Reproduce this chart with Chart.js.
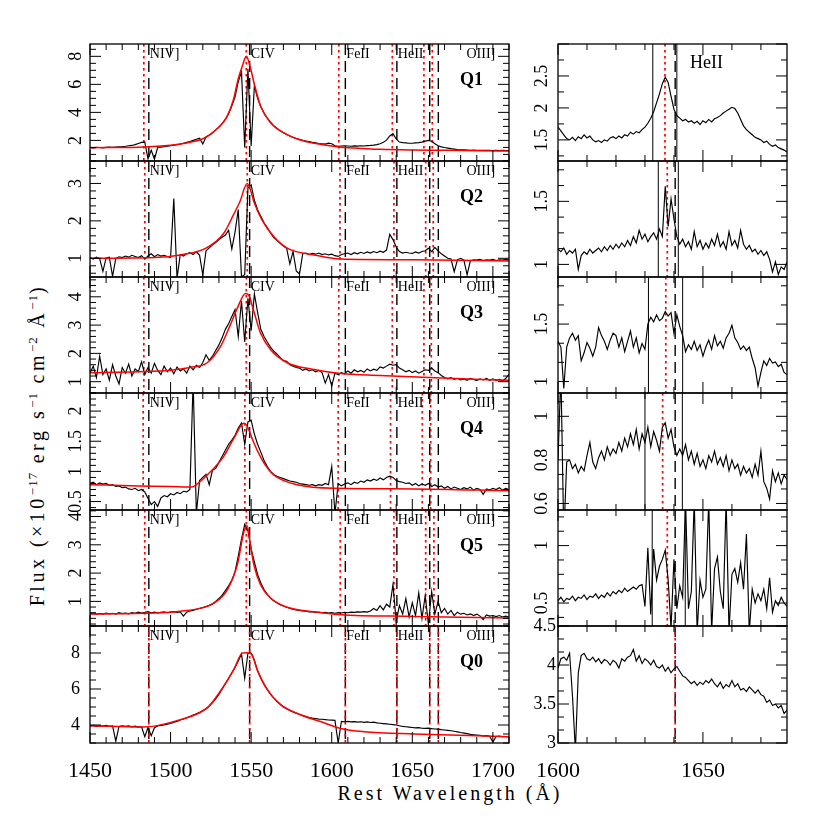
<!DOCTYPE html>
<html>
<head>
<meta charset="utf-8">
<script src="https://cdn.jsdelivr.net/npm/chart.js@4.4.1/dist/chart.umd.min.js"></script>
<style>
html,body{margin:0;padding:0;background:#fff;}
#wrap{position:relative;width:830px;height:830px;overflow:hidden;background:#fff;}
#wrap canvas{position:absolute;}
.ttl{position:absolute;font-family:"Liberation Serif","Times New Roman",serif;font-size:20px;line-height:20px;color:#000;white-space:nowrap;}
#xt{left:450px;top:783px;transform:translateX(-50%);letter-spacing:3px;}
#yt{left:37px;top:445px;transform:translate(-50%,-50%) rotate(-90deg);letter-spacing:3.5px;}
.ttl sup{font-size:13px;line-height:0;vertical-align:7px;letter-spacing:1px;}
</style>
</head>
<body>
<div id="wrap">
<div class="ttl" id="xt">Rest Wavelength (Å)</div>
<div class="ttl" id="yt">Flux (×10<sup>−17</sup> erg s<sup>−1</sup> cm<sup>−2</sup> Å<sup>−1</sup>)</div>
</div>
<script>
// ---------------- DATA ----------------
const panelNames = ['Q1','Q2','Q3','Q4','Q5','Q0'];
const lineNames = ['NIV]','CIV','FeII','HeII','OIII]'];
const lineLabelWave = [1486.5,1549.06,1608.45,1640.42,1683];
const labWave = [1486.5,1549.06,1608.45,1640.42,1660.81,1666.15];
const heIIWave = 1640.42;

const leftXRange = [1450,1710];
const rightXRange = [1600,1679];
const leftXTicks = [1450,1500,1550,1600,1650,1700];
const rightXTicks = [1600,1650];

const leftYRanges = [[0.53,8.88],[0.5,3.6],[0.6,4.7],[0.36,2.3],[0.13,4.23],[3.0,9.5]];
const leftYTicks = [[2,4,6,8],[1,2,3],[1,2,3,4],[0.5,1,1.5,2],[1,2,3,4],[4,6,8]];
const rightYRanges = [[1.17,3.0],[0.9,1.82],[0.9,1.91],[0.57,1.107],[0.3,1.31],[3.0,4.5]];
const rightYTicks = [[1.5,2,2.5],[1,1.5],[1,1.5],[0.6,0.8,1],[0.5,1],[3,3.5,4,4.5]];

const leftWave = [1450,1452,1454,1456,1458,1460,1462,1464,1466,1468,
1470,1472,1474,1476,1478,1480,1482,1484,1486,1488,
1490,1492,1494,1496,1498,1500,1502,1504,1506,1508,
1510,1512,1514,1516,1518,1520,1522,1524,1526,1528,
1530,1532,1534,1536,1538,1540,1542,1544,1546,1548,
1550,1552,1554,1556,1558,1560,1562,1564,1566,1568,
1570,1572,1574,1576,1578,1580,1582,1584,1586,1588,
1590,1592,1594,1596,1598,1600,1602,1604,1606,1608,
1610,1612,1614,1616,1618,1620,1622,1624,1626,1628,
1630,1632,1634,1636,1638,1640,1642,1644,1646,1648,
1650,1652,1654,1656,1658,1660,1662,1664,1666,1668,
1670,1672,1674,1676,1678,1680,1682,1684,1686,1688,
1690,1692,1694,1696,1698,1700,1702,1704,1706,1708,
1710];

const q1Flux = [1.48,1.47,1.50,1.49,1.47,1.50,1.52,1.50,1.53,1.55,
1.56,1.58,1.62,1.64,1.70,1.78,1.86,1.88,0.68,1.30,
0.66,1.50,1.52,1.55,1.58,1.62,1.66,1.70,1.74,1.80,
1.86,1.92,2.00,2.08,2.15,1.75,2.25,2.38,2.55,2.75,
2.95,3.20,3.50,3.90,4.45,5.10,6.20,6.90,1.50,7.10,
1.60,5.90,5.00,4.40,3.95,3.60,3.30,3.05,2.85,2.68,
2.55,2.42,2.32,2.22,2.14,2.07,2.01,1.96,1.91,1.86,
1.82,1.78,1.76,1.74,1.80,1.76,1.62,1.58,1.60,1.62,
1.60,1.58,1.61,1.59,1.62,1.60,1.63,1.64,1.66,1.70,
1.76,1.86,2.02,2.32,2.48,2.10,1.88,1.84,1.82,1.80,
1.80,1.82,1.84,1.88,1.95,2.00,1.94,1.76,1.62,1.54,
1.49,1.45,1.41,1.38,1.35,1.33,1.32,1.31,1.30,1.31,
1.30,1.29,1.30,1.29,1.30,1.28,1.29,1.28,1.29,1.28,
1.28];

const q2Flux = [1.02,0.98,1.03,0.99,0.65,1.01,1.03,0.52,1.00,1.04,
1.02,1.06,1.03,1.08,1.05,1.02,1.07,0.98,1.06,1.12,
1.04,1.10,1.06,1.08,1.05,1.02,2.60,0.47,1.10,1.06,
1.12,1.15,1.10,1.18,1.08,0.56,1.20,1.28,1.36,1.42,
1.50,1.56,1.62,1.75,1.25,1.70,2.30,0.51,0.56,2.88,
2.96,2.55,2.30,2.12,1.95,1.82,1.68,1.55,1.48,1.40,
1.33,1.27,0.85,1.18,0.66,0.58,1.12,1.14,1.10,1.13,
1.11,1.14,1.10,1.12,1.09,1.11,1.07,1.05,1.10,1.12,
1.14,1.10,1.15,1.12,1.16,1.13,1.17,1.14,1.18,1.15,
1.19,1.16,1.22,1.64,1.50,1.30,1.18,1.14,1.16,1.14,
1.13,1.17,1.14,1.18,1.20,1.27,1.18,1.29,1.20,1.12,
1.06,1.00,0.98,0.64,0.96,1.00,0.95,0.56,0.93,0.96,
0.95,0.97,0.94,0.96,0.95,0.97,0.94,0.96,0.95,0.97,
0.95];

const q3Flux = [1.30,1.55,1.15,1.90,1.25,1.45,1.05,1.60,1.20,0.92,
1.50,1.30,1.62,1.20,1.45,1.35,1.70,1.25,1.50,1.30,
1.65,1.40,1.25,1.55,1.35,1.48,1.28,1.52,1.38,1.45,
1.30,1.55,1.42,1.58,1.50,1.68,1.95,1.75,1.90,2.10,
2.30,2.55,2.85,3.05,3.30,3.55,2.60,3.85,2.40,3.95,
2.80,4.10,3.45,2.85,2.60,2.40,2.22,2.08,1.98,1.85,
1.75,1.72,1.60,1.55,1.50,1.48,1.40,1.45,1.38,1.42,
1.35,1.40,1.32,0.95,1.25,0.85,1.30,1.25,1.32,1.28,
1.38,1.30,1.42,1.35,1.40,1.33,1.45,1.38,1.44,1.40,
1.52,1.48,1.55,1.62,1.58,1.60,1.48,1.42,1.35,1.40,
1.32,1.38,1.30,1.36,1.42,1.40,1.48,1.38,1.32,1.22,
1.15,1.10,1.14,1.08,1.12,1.06,1.10,1.05,1.12,1.08,
1.04,1.10,1.06,1.12,1.05,1.10,1.04,1.08,1.02,1.12,
1.26];

const q4Flux = [0.80,0.82,0.78,0.81,0.79,0.80,0.77,0.78,0.75,0.76,
0.73,0.74,0.71,0.70,0.72,0.68,0.70,0.66,0.55,0.45,
0.50,0.42,0.56,0.60,0.58,0.63,0.61,0.65,0.63,0.67,
0.66,0.70,2.50,0.30,0.85,0.90,0.95,0.78,1.02,1.05,
1.15,1.25,1.35,1.45,1.52,1.60,1.72,1.80,1.45,1.82,
1.85,1.62,1.45,1.32,1.18,1.08,1.00,0.95,0.92,0.90,
0.88,0.86,0.84,0.83,0.82,0.80,0.79,0.78,0.77,0.78,
0.76,0.78,0.77,0.80,0.78,1.08,0.30,0.80,0.76,0.79,
0.81,0.78,0.82,0.80,0.84,0.82,0.86,0.84,0.87,0.85,
0.89,0.86,0.90,0.92,0.90,0.85,0.83,0.82,0.80,0.81,
0.77,0.80,0.76,0.79,0.77,0.80,0.75,0.78,0.74,0.76,
0.72,0.75,0.71,0.74,0.72,0.70,0.73,0.71,0.74,0.69,
0.72,0.70,0.62,0.71,0.69,0.72,0.70,0.73,0.69,0.72,
0.70];

const q5Flux = [0.55,0.58,0.54,0.57,0.55,0.59,0.56,0.58,0.55,0.60,
0.57,0.59,0.56,0.60,0.58,0.62,0.59,0.61,0.64,0.60,
0.62,0.59,0.61,0.63,0.60,0.62,0.64,0.61,0.63,0.48,
0.62,0.66,0.68,0.72,0.75,0.78,0.82,0.86,0.92,1.00,
1.10,1.22,1.38,1.55,1.75,2.05,2.60,3.20,3.72,3.50,
2.85,2.40,1.95,1.65,1.42,1.25,1.12,1.02,0.95,0.88,
0.84,0.79,0.76,0.72,0.70,0.68,0.66,0.65,0.63,0.64,
0.61,0.62,0.60,0.61,0.59,0.60,0.58,0.60,0.59,0.61,
0.60,0.62,0.61,0.63,0.62,0.64,0.62,0.66,0.75,0.68,
0.85,0.70,0.90,0.80,1.60,0.30,0.85,0.55,1.10,0.45,
0.95,0.50,1.30,0.40,1.20,0.20,1.35,0.55,1.00,0.60,
0.75,0.55,0.68,0.50,0.62,0.55,0.58,0.52,0.56,0.50,
0.55,0.48,0.36,0.52,0.48,0.50,0.46,0.50,0.45,0.48,
0.44];

const q0Flux = [3.95,3.98,3.92,3.96,3.94,3.98,3.93,3.95,3.10,3.92,
3.96,3.93,3.95,3.90,3.94,3.88,3.90,3.35,3.86,3.40,
3.85,3.95,3.98,4.00,4.05,4.08,4.15,4.20,4.28,4.33,
4.40,4.47,4.55,4.63,4.70,4.80,4.90,5.05,5.25,5.45,
5.70,6.00,6.30,6.60,6.90,7.20,7.55,7.95,6.60,8.00,
8.00,7.60,7.00,6.60,6.25,5.98,5.72,5.50,5.30,5.15,
5.00,4.90,4.80,4.72,4.65,4.58,4.52,4.47,4.42,4.38,
4.36,4.33,4.32,4.30,4.28,4.27,4.26,3.00,4.20,4.18,
4.20,4.17,4.19,4.16,4.18,4.15,4.17,4.14,4.16,4.12,
4.10,4.08,4.06,4.04,4.02,4.00,3.96,3.92,3.90,3.88,
3.86,3.84,3.85,3.82,3.81,3.83,3.80,3.78,3.77,3.74,
3.72,3.70,3.68,3.65,3.62,3.58,3.55,3.52,3.48,3.46,
3.44,3.42,3.40,3.41,3.38,3.05,3.36,3.38,3.35,3.36,
3.34];

// model fits (red)
const q1FitWave = [1450,1480,1500,1510,1520,1525,1530,1535,1539,1542,1544.5,1547,1549.5,1552,1556,1562,1572,1580,1589,1600,1606,1620,1630,1650,1672,1690,1710];
const q1FitFlux = [1.48,1.52,1.65,1.82,2.12,2.45,2.95,3.7,4.9,6.4,7.3,8.0,7.2,6.0,4.4,3.26,2.43,2.05,1.8,1.6,1.52,1.42,1.36,1.31,1.29,1.26,1.24];
const q2FitWave = [1450,1490,1506,1522,1533,1539,1543,1547.5,1549.6,1551.7,1556.8,1564,1572.4,1589,1605.5,1651,1710];
const q2FitFlux = [1.0,1.02,1.09,1.27,1.67,2.16,2.51,3.0,2.82,2.51,2.02,1.58,1.27,1.09,0.98,0.96,0.93];
const q3FitWave = [1450,1480,1500,1512,1522.7,1531,1537,1541.4,1546.5,1548.5,1551.7,1555.8,1562,1572.4,1589,1605.5,1630,1672,1710];
const q3FitFlux = [1.32,1.35,1.40,1.50,1.67,2.25,3.0,3.6,4.12,4.06,3.48,2.72,2.14,1.67,1.43,1.29,1.22,1.12,1.05];
const q4FitWave = [1450,1480,1500,1513,1516,1522.7,1533,1539.3,1545.5,1547.5,1551.7,1557.9,1564,1578.6,1603,1651,1710];
const q4FitFlux = [0.78,0.76,0.75,0.74,0.78,0.94,1.25,1.55,1.80,1.75,1.47,1.14,0.94,0.78,0.72,0.71,0.68];
const q5FitWave = [1450,1500,1506,1520,1527,1535.2,1541.4,1545.5,1547.5,1549.6,1551.7,1555.8,1562,1572.4,1589,1605.5,1651,1710];
const q5FitFlux = [0.55,0.62,0.65,0.78,0.94,1.41,2.29,3.46,3.67,2.99,2.29,1.59,1.12,0.79,0.63,0.53,0.47,0.41];
const q0FitWave = [1450,1483,1506,1522.7,1533,1539.3,1544.4,1546.5,1548.5,1550.6,1553.7,1560,1568.3,1580.6,1593,1605.5,1620,1651,1710];
const q0FitFlux = [3.96,3.89,4.30,4.95,6.16,7.09,7.99,8.02,8.0,7.9,7.09,5.97,5.13,4.57,4.19,3.81,3.63,3.50,3.35];

// observed (shifted) line positions, red dotted
const q1Red = [1483.4,1547.0,1604.4,1637.6,1657.2,1662.4];
const q2Red = [1484.0,1547.6,1605.1,1638.6,1658.3,1663.0];
const q3Red = [1483.4,1547.0,1604.4,1637.6,1657.2,1661.8];
const q4Red = [1483.0,1546.1,1604.0,1636.5,1656.2,1661.4];
const q5Red = [1484.0,1547.0,1605.3,1638.6,1658.3,1663.4];
const q0Red = [1486.5,1549.06,1608.45,1640.42,1660.81,1666.15];

// He II zoom panels
const rightWave = [1600,1601,1602,1603,1604,1605,1606,1607,1608,1609,
1610,1611,1612,1613,1614,1615,1616,1617,1618,1619,
1620,1621,1622,1623,1624,1625,1626,1627,1628,1629,
1630,1631,1632,1633,1634,1635,1636,1637,1638,1639,
1640,1641,1642,1643,1644,1645,1646,1647,1648,1649,
1650,1651,1652,1653,1654,1655,1656,1657,1658,1659,
1660,1661,1662,1663,1664,1665,1666,1667,1668,1669,
1670,1671,1672,1673,1674,1675,1676,1677,1678,1679];

const q1HeII = [1.70,1.64,1.58,1.52,1.50,1.54,1.49,1.55,1.52,1.58,
1.53,1.56,1.50,1.47,1.49,1.46,1.50,1.48,1.53,1.55,
1.52,1.56,1.53,1.58,1.56,1.62,1.59,1.63,1.61,1.66,
1.70,1.76,1.84,1.94,2.08,2.22,2.38,2.48,2.40,2.18,
1.98,1.88,1.84,1.80,1.82,1.78,1.80,1.76,1.79,1.74,
1.80,1.77,1.82,1.78,1.83,1.85,1.88,1.92,1.95,1.98,
2.01,1.99,1.92,1.82,1.72,1.66,1.62,1.58,1.54,1.52,
1.50,1.46,1.48,1.43,1.40,1.42,1.38,1.36,1.34,1.31];
const q2HeII = [1.12,1.10,1.13,1.08,1.11,1.09,1.12,0.96,1.07,1.10,
1.08,1.12,1.09,1.11,1.13,1.10,1.14,1.11,1.15,1.12,
1.16,1.13,1.17,1.14,1.19,1.15,1.22,1.17,1.27,1.20,
1.24,1.18,1.22,1.25,1.20,1.28,1.22,1.62,1.30,1.52,
1.36,1.22,1.16,1.20,1.14,1.18,1.12,1.26,1.14,1.19,
1.12,1.17,1.13,1.20,1.15,1.24,1.14,1.18,1.12,1.26,
1.15,1.19,1.13,1.27,1.16,1.12,1.15,1.10,1.12,1.08,
1.11,1.07,1.10,1.04,0.94,1.02,0.92,0.98,0.96,1.02];
const q3HeII = [1.35,1.30,0.94,1.30,1.38,1.42,1.36,1.40,1.18,1.25,
1.34,1.29,1.22,1.30,1.47,1.40,1.35,1.28,1.36,1.42,
1.40,1.30,1.38,1.26,1.35,1.44,1.30,1.38,1.25,1.33,
1.28,1.50,1.56,1.52,1.58,1.53,1.55,1.61,1.57,1.60,
1.42,1.58,1.48,1.40,1.26,1.32,1.28,1.35,1.27,1.32,
1.22,1.30,1.36,1.28,1.40,1.31,1.35,1.29,1.38,1.42,
1.49,1.38,1.34,1.28,1.31,1.27,1.30,1.20,1.12,0.96,
1.08,1.18,1.14,1.20,1.16,1.17,1.13,1.15,1.08,1.06];
const q4HeII = [0.80,1.20,0.45,0.79,0.80,0.76,0.78,0.74,0.77,0.75,
0.82,0.88,0.79,0.76,0.81,0.84,0.80,0.86,0.82,0.85,
0.83,0.88,0.84,0.90,0.86,0.92,0.87,0.94,0.85,0.92,
0.88,0.95,0.86,0.93,0.89,0.84,0.95,0.97,0.90,0.94,
0.86,0.82,0.85,0.82,0.87,0.80,0.84,0.78,0.83,0.77,
0.80,0.76,0.82,0.79,0.84,0.78,0.81,0.77,0.82,0.75,
0.80,0.76,0.78,0.73,0.77,0.74,0.76,0.72,0.78,0.73,
0.84,0.70,0.67,0.62,0.75,0.70,0.74,0.69,0.73,0.71];
const q5HeII = [0.52,0.55,0.51,0.54,0.53,0.56,0.52,0.55,0.54,0.57,
0.53,0.56,0.55,0.58,0.54,0.57,0.55,0.59,0.56,0.60,
0.58,0.61,0.59,0.63,0.60,0.62,0.64,0.62,0.65,0.66,
0.47,0.98,0.40,0.97,0.70,0.82,0.88,0.96,0.70,0.28,
0.88,0.45,0.65,0.55,1.40,0.45,0.60,1.40,0.25,0.70,
0.55,0.62,1.40,0.25,0.80,0.90,0.60,0.45,1.40,0.25,
0.75,0.80,0.68,0.85,0.62,1.10,0.25,0.62,0.50,0.58,
0.52,0.62,0.45,0.72,0.42,0.52,0.48,0.55,0.50,0.47];
const q0HeII = [3.96,4.08,4.10,4.06,4.15,3.60,2.90,3.90,4.12,4.15,
4.08,4.06,4.10,4.04,4.08,4.02,4.07,4.05,4.00,4.06,
4.03,3.96,4.08,4.05,4.10,4.12,4.20,4.05,4.12,4.02,
4.08,4.05,4.00,4.06,3.98,3.96,4.00,3.92,3.97,3.90,
3.95,3.98,3.92,3.86,3.84,3.80,3.76,3.79,3.74,3.78,
3.75,3.80,3.77,3.82,3.76,3.72,3.78,3.70,3.75,3.72,
3.80,3.72,3.76,3.68,3.70,3.66,3.72,3.68,3.64,3.68,
3.62,3.60,3.52,3.55,3.48,3.50,3.45,3.48,3.38,3.42];

const rightRed = [1636.9,1637.7,1637.2,1636.1,1637.7,1640.42];
const rightWinLo = [1632.7,1634.6,1631.2,1630.0,1632.5,null];
const rightWinHi = [1641.0,1641.5,1643.0,1642.9,1643.9,null];

// ---------------- LAYOUT / STYLE ----------------
const FONT = '"Liberation Serif", "Times New Roman", serif';
const ROW_EDGES = [44,161,277,393,510,626,743];
const AREA = {left:[90,509], right:[558,787]};
const M = {top:30, left:60, right:30, bottom:40};
const leftYMinor = [0.5,0.2,0.2,0.1,0.2,0.5];
const leftYMajor = [2,1,1,0.5,1,2];
const rightYMinor = [0.25,0.125,0.5/3,0.2/3,0.125,0.5/3];
const rightYMajor = [0.5,0.5,0.5,0.2,0.5,0.5];
const Y_FONT_SIZE = 18, X_FONT_SIZE = 22;

const leftFlux = [q1Flux,q2Flux,q3Flux,q4Flux,q5Flux,q0Flux];
const leftFitWave = [q1FitWave,q2FitWave,q3FitWave,q4FitWave,q5FitWave,q0FitWave];
const leftFitFlux = [q1FitFlux,q2FitFlux,q3FitFlux,q4FitFlux,q5FitFlux,q0FitFlux];
const leftRed = [q1Red,q2Red,q3Red,q4Red,q5Red,q0Red];
const rightFlux = [q1HeII,q2HeII,q3HeII,q4HeII,q5HeII,q0HeII];

const mctx = document.createElement('canvas').getContext('2d');
function widest(labels, size){
  mctx.font = 'normal ' + size + 'px ' + FONT;
  return Math.max.apply(null, labels.map(l => mctx.measureText(l).width));
}

function makeDecor(cfg){
  return {
    id:'decor',
    beforeDatasetsDraw(chart){
      const ctx = chart.ctx, a = chart.chartArea, xs = chart.scales.x;
      ctx.save();
      ctx.beginPath(); ctx.rect(a.left, a.top, a.right-a.left, a.bottom-a.top); ctx.clip();
      const vline = (w, color, dash, lw) => {
        const px = xs.getPixelForValue(w);
        ctx.strokeStyle = color; ctx.lineWidth = lw; ctx.setLineDash(dash);
        ctx.beginPath(); ctx.moveTo(px, a.top); ctx.lineTo(px, a.bottom); ctx.stroke();
      };
      cfg.solid.forEach(w => vline(w, '#000', [], 1));
      cfg.dashed.forEach(w => vline(w, '#000', [11,6], 1.4));
      cfg.dotted.forEach(w => vline(w, '#ff0000', [2.5,3.5], 1.7));
      ctx.restore();
    },
    afterDatasetsDraw(chart){
      const ctx = chart.ctx, a = chart.chartArea, xs = chart.scales.x, ys = chart.scales.y;
      ctx.save();
      ctx.setLineDash([]);
      ctx.strokeStyle = '#000';
      ctx.lineWidth = 1.3;
      ctx.strokeRect(a.left, a.top, a.right-a.left, a.bottom-a.top);
      ctx.lineWidth = 1;
      const seg = (x1,y1,x2,y2) => { ctx.beginPath(); ctx.moveTo(x1,y1); ctx.lineTo(x2,y2); ctx.stroke(); };
      const isMult = (v, s) => Math.abs(v/s - Math.round(v/s)) < 1e-6;
      for (let k = Math.ceil(xs.min/cfg.xMinor - 1e-9); k*cfg.xMinor <= xs.max + 1e-9; k++){
        const v = k*cfg.xMinor, len = isMult(v, cfg.xMajor) ? 11 : 6, px = xs.getPixelForValue(v);
        seg(px, a.bottom, px, a.bottom-len); seg(px, a.top, px, a.top+len);
      }
      for (let k = Math.ceil(ys.min/cfg.yMinor - 1e-9); k*cfg.yMinor <= ys.max + 1e-9; k++){
        const v = k*cfg.yMinor, len = isMult(v, cfg.yMajor) ? 11 : 6, py = ys.getPixelForValue(v);
        seg(a.left, py, a.left+len, py); seg(a.right, py, a.right-len, py);
      }
      ctx.fillStyle = '#000';
      ctx.textBaseline = 'alphabetic';
      ctx.textAlign = 'left';
      cfg.texts.forEach(t => {
        ctx.font = t.font;
        const x = (t.wave !== undefined) ? xs.getPixelForValue(t.wave) + t.dx : a.left + t.dx;
        ctx.fillText(t.text, x, a.top + t.dy);
      });
      ctx.restore();
    }
  };
}

const wrap = document.getElementById('wrap');

function buildPanel(row, side){
  const isLeft = side === 'left';
  const area = AREA[side];
  const top = ROW_EDGES[row], bottom = ROW_EDGES[row+1];
  const isBottom = row === 5;
  const cw = M.left + (area[1]-area[0]) + M.right;
  const ch = M.top + (bottom-top) + M.bottom;
  const cv = document.createElement('canvas');
  cv.width = cw; cv.height = ch;
  cv.style.left = (area[0]-M.left) + 'px';
  cv.style.top = (top-M.top) + 'px';
  cv.style.width = cw + 'px'; cv.style.height = ch + 'px';
  wrap.appendChild(cv);

  const yTicks = isLeft ? leftYTicks[row] : rightYTicks[row];
  const yRange = isLeft ? leftYRanges[row] : rightYRanges[row];
  const xTicks = isLeft ? leftXTicks : rightXTicks;
  const xRange = isLeft ? leftXRange : rightXRange;
  const yLabels = yTicks.map(v => String(v));

  let rot, crossAlign, pad;
  if (isBottom){
    rot = 0; crossAlign = 'near'; pad = isLeft ? 10 : 2;
  } else {
    rot = 90; crossAlign = 'center';
    pad = (isLeft ? 13.5 : 16) - widest(yLabels, Y_FONT_SIZE)/2;
  }

  const datasets = [];
  if (isLeft){
    datasets.push({
      data: leftFitWave[row].map((w,i) => ({x:w, y:leftFitFlux[row][i]})),
      borderColor:'#ff0000', borderWidth:1.5, pointRadius:0, cubicInterpolationMode:'monotone', clip:0
    });
    datasets.push({
      data: leftWave.map((w,i) => ({x:w, y:leftFlux[row][i]})),
      borderColor:'#000', borderWidth:1.15, pointRadius:0, tension:0, clip:0
    });
  } else {
    datasets.push({
      data: rightWave.map((w,i) => ({x:w, y:rightFlux[row][i]})),
      borderColor:'#000', borderWidth:1.15, pointRadius:0, tension:0, clip:0
    });
  }

  const texts = [];
  if (isLeft){
    lineNames.forEach((n,i) => texts.push({text:n, wave:lineLabelWave[i], dx:1, dy:14, font:'normal 14px ' + FONT}));
    texts.push({text:panelNames[row], dx:370, dy:41, font:'bold 18px ' + FONT});
  } else if (row === 0){
    texts.push({text:'HeII', dx:132, dy:24, font:'normal 18px ' + FONT});
  }

  const cfg = isLeft ? {
    solid: [], dashed: labWave, dotted: leftRed[row],
    xMinor:10, xMajor:50, yMinor:leftYMinor[row], yMajor:leftYMajor[row], texts
  } : {
    solid: [rightWinLo[row], rightWinHi[row]].filter(v => v !== null),
    dashed: [heIIWave], dotted: [rightRed[row]],
    xMinor:10, xMajor:50, yMinor:rightYMinor[row], yMajor:rightYMajor[row], texts
  };

  new Chart(cv, {
    type:'line',
    data:{datasets},
    options:{
      responsive:false, animation:false, devicePixelRatio:1, events:[],
      layout:{autoPadding:false, padding:{top:M.top, left:0, right:M.right, bottom:0}},
      plugins:{legend:{display:false}, tooltip:{enabled:false}},
      scales:{
        x:{
          type:'linear', min:xRange[0], max:xRange[1],
          afterBuildTicks: s => { s.ticks = xTicks.map(v => ({value:v})); },
          afterFit: s => { s.height = M.bottom; },
          grid:{display:false, drawTicks:false}, border:{display:false},
          ticks:{display:isBottom, autoSkip:false, maxRotation:0, minRotation:0, padding:15,
                 color:'#000', font:{family:FONT, size:X_FONT_SIZE}, callback: v => String(v)}
        },
        y:{
          type:'linear', min:yRange[0], max:yRange[1],
          afterBuildTicks: s => { s.ticks = yTicks.map(v => ({value:v})); },
          afterFit: s => { s.width = M.left; },
          grid:{display:false, drawTicks:false}, border:{display:false},
          ticks:{autoSkip:false, minRotation:rot, maxRotation:rot, crossAlign, padding:pad,
                 color:'#000', font:{family:FONT, size:Y_FONT_SIZE}, callback: v => String(v)}
        }
      }
    },
    plugins:[makeDecor(cfg)]
  });
}

for (let r = 0; r < 6; r++){ buildPanel(r, 'left'); buildPanel(r, 'right'); }
</script>
</body>
</html>
